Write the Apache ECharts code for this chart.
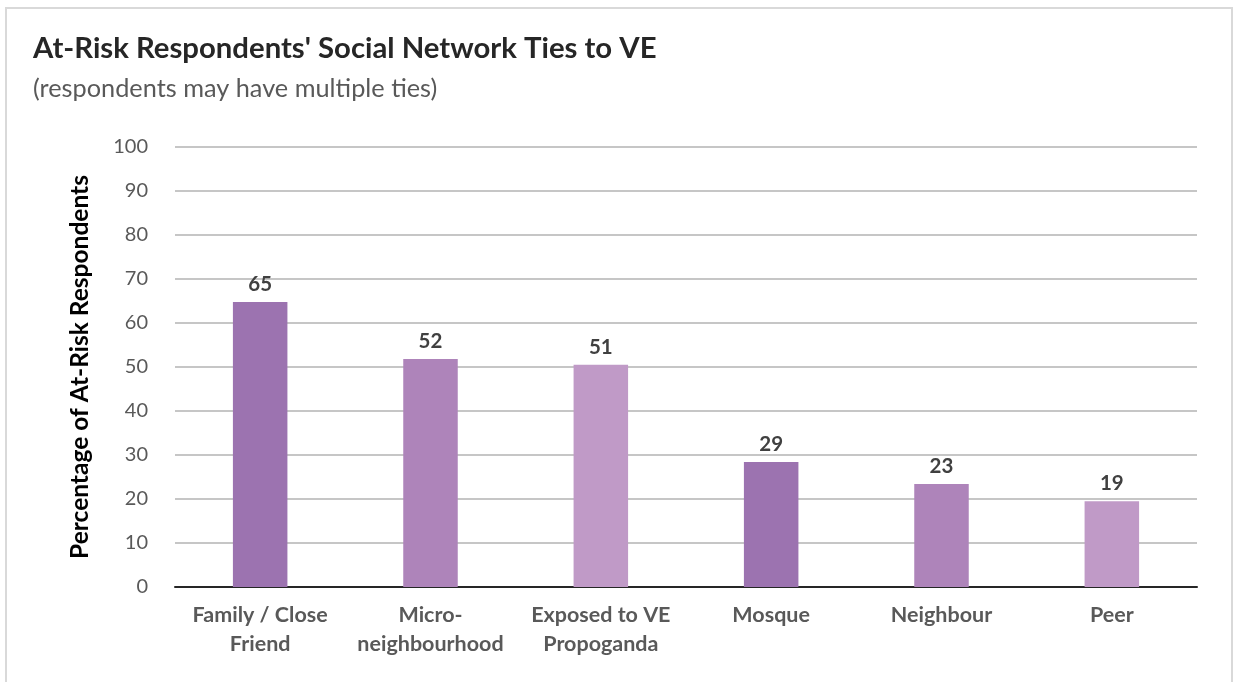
<!DOCTYPE html>
<html>
<head>
<meta charset="utf-8">
<script src="https://cdn.jsdelivr.net/npm/echarts@6/dist/echarts.min.js"></script>
<style>
html,body{margin:0;padding:0;background:#fff;}
#chart{width:1238px;height:682px;}
</style>
</head>
<body>
<div id="chart"></div>
<script>
const categories = ["Family / Close\nFriend", "Micro-\nneighbourhood", "Exposed to VE\nPropoganda", "Mosque", "Neighbour", "Peer"];
const values = [64.8, 51.8, 50.5, 28.4, 23.4, 19.5];
const valueLabels = ["65", "52", "51", "29", "23", "19"];
const barColors = ["#9C73B0", "#AE84BA", "#C09AC7", "#9C73B0", "#AE84BA", "#C09AC7"];
const yTicks = [0, 10, 20, 30, 40, 50, 60, 70, 80, 90, 100];

const FONT = "Lato, 'Open Sans', sans-serif";
const chart = echarts.init(document.getElementById('chart'));
chart.setOption({
  animation: false,
  backgroundColor: '#fff',
  graphic: [{
    type: 'rect', silent: true, z: -10,
    shape: { x: 6, y: 8, width: 1226, height: 700 },
    style: { fill: '#fff', stroke: '#d9d9d9', lineWidth: 2 }
  }],
  title: {
    text: "At-Risk Respondents' Social Network Ties to VE",
    subtext: "(respondents may have multiple ties)",
    left: 28, top: 29,
    itemGap: 13,
    textStyle: { fontFamily: FONT, fontWeight: 'bold', fontSize: 29.3, color: '#262626' },
    subtextStyle: { fontFamily: FONT, fontSize: 25.3, color: '#595959' }
  },
  grid: { left: 175, right: 41, top: 147, bottom: 95 },
  xAxis: {
    type: 'category',
    data: categories,
    axisTick: { show: false },
    axisLine: { lineStyle: { color: '#262626', width: 2 } },
    axisLabel: {
      interval: 0, margin: 14,
      fontFamily: FONT, fontWeight: 'bold', fontSize: 21.5, color: '#595959', lineHeight: 29
    }
  },
  yAxis: {
    type: 'value', min: 0, max: 100, interval: 10,
    name: 'Percentage of At-Risk Respondents',
    nameLocation: 'middle', nameGap: 82,
    nameTextStyle: { fontFamily: FONT, fontWeight: 'bold', fontSize: 24.5, color: '#000' },
    axisLine: { show: false }, axisTick: { show: false },
    axisLabel: { margin: 27, fontFamily: FONT, fontSize: 20, color: '#595959' },
    splitLine: { lineStyle: { color: '#b3b3b3', width: 1.5 } }
  },
  series: [{
    type: 'bar',
    data: values.map((v, i) => ({ value: v, itemStyle: { color: barColors[i] } })),
    barWidth: '32%',
    label: {
      show: true, position: 'top', distance: 7,
      formatter: p => valueLabels[p.dataIndex],
      fontFamily: FONT, fontWeight: 'bold', fontSize: 20.5, color: '#404040'
    }
  }]
});
</script>
</body>
</html>
